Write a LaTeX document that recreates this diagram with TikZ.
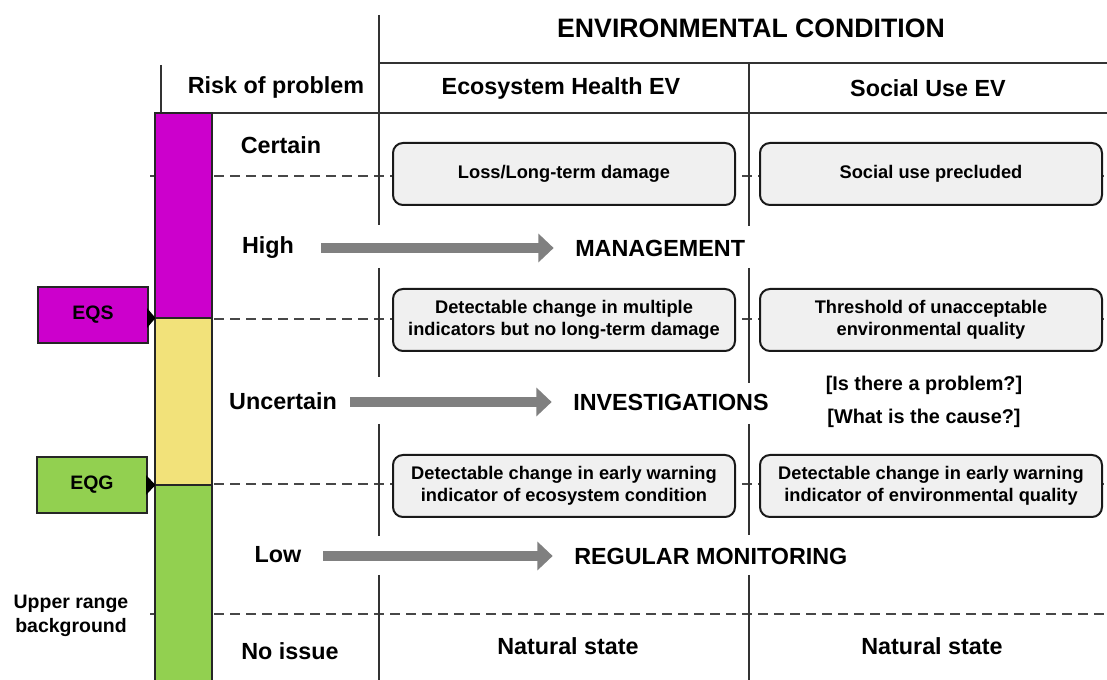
\documentclass[tikz,border=0pt]{standalone}
\usepackage{fontspec}
\setmainfont{Liberation Sans}
\usetikzlibrary{arrows.meta}
\definecolor{eqsmag}{RGB}{204,0,204}
\definecolor{eqsyel}{RGB}{242,226,122}
\definecolor{eqggreen}{RGB}{146,208,80}
\definecolor{boxgray}{RGB}{240,240,240}
\definecolor{arrgray}{RGB}{128,128,128}
\begin{document}
\begin{tikzpicture}[x=0.75pt,y=-0.75pt,
    every node/.style={font=\bfseries},
    hd/.style={font=\fontsize{17.5}{21}\selectfont\bfseries},
    sm/.style={font=\fontsize{14.6}{18}\selectfont\bfseries},
    rule/.style={draw=black!80,line width=1.6pt},
    dashline/.style={draw=black!72,line width=1.7pt,dash pattern=on 7.5pt off 4.5pt},
    evbox/.style={draw=black!90,line width=1.5pt,fill=boxgray,rounded corners=7.5pt,
      align=center,minimum width=256.5pt,minimum height=46.5pt,inner sep=2pt,
      font=\fontsize{13.7}{16.5}\selectfont\bfseries},
    eqbox/.style={draw=black!85,line width=0.9pt,minimum width=82.5pt,minimum height=42pt,sm},
    bigarrow/.style={draw=arrgray,line width=7.5pt,-{Triangle[width=21pt,length=11.5pt]},shorten >=16pt}]
  \useasboundingbox (0,0) rectangle (1107,680);
  % dashed thresholds
  \foreach \y in {176,319,484,614}
    \draw[dashline] (150,\y) -- (1107,\y);
  % table rules
  \draw[rule] (379,15) -- (379,225) (379,268) -- (379,377) (379,424) -- (379,536) (379,575) -- (379,680);
  \draw[rule] (749,63) -- (749,226) (749,268) -- (749,383) (749,424) -- (749,535) (749,575) -- (749,680);
  \draw[rule] (379,63) -- (1107,63);
  \draw[rule] (161,65) -- (161,113) -- (1107,113);
  % risk bar
  \filldraw[fill=eqsmag,draw=black!85,line width=0.9pt] (155,113) rectangle (212,318);
  \filldraw[fill=eqsyel,draw=black!85,line width=0.9pt] (155,318) rectangle (212,485);
  \filldraw[fill=eqggreen,draw=black!85,line width=0.9pt] (155,485) rectangle (212,681);
  % headings
  \node[font=\fontsize{20}{24}\selectfont\bfseries] (envcond) at (751,28) {ENVIRONMENTAL CONDITION};
  \node[hd] (riskhd) at (276,87) {Risk of problem};
  \node[hd] (ecohd) at (561,88) {Ecosystem Health EV};
  \node[hd] (sochd) at (928,88) {Social Use EV};
  % risk levels
  \node[hd] (certain) at (281,145) {Certain};
  \node[hd] (high) at (268,248) {High};
  \node[hd] (uncert) at (283,401) {Uncertain};
  \node[hd] (low) at (278,555) {Low};
  \node[hd] (noissue) at (290,651) {No issue};
  % actions
  \node[hd,anchor=west,inner sep=0pt] (mgmt) at (575,248) {MANAGEMENT};
  \node[hd,anchor=west,inner sep=0pt] (invest) at (573,402) {INVESTIGATIONS};
  \node[hd,anchor=west,inner sep=0pt] (regmon) at (574,556) {REGULAR MONITORING};
  \coordinate (a1) at (321,248);
  \coordinate (a2) at (350,402);
  \coordinate (a3) at (323,556);
  \draw[bigarrow] (a1) -- (mgmt.west);
  \draw[bigarrow] (a2) -- (invest.west);
  \draw[bigarrow] (a3) -- (regmon.west);
  \node[align=center,font=\fontsize{14.9}{24.75}\selectfont\bfseries] (quest) at (924,402)
    {[Is there a problem?]\\{}[What is the cause?]};
  % condition boxes
  \node[evbox] (eco1) at (564,174) {Loss/Long-term damage};
  \node[evbox] (soc1) at (931,174) {Social use precluded};
  \node[evbox] (eco2) at (564,320) {Detectable change in multiple\\indicators but no long-term damage};
  \node[evbox] (soc2) at (931,320) {Threshold of unacceptable\\environmental quality};
  \node[evbox] (eco3) at (564,486) {Detectable change in early warning\\indicator of ecosystem condition};
  \node[evbox] (soc3) at (931,486) {Detectable change in early warning\\indicator of environmental quality};
  \node[hd] (nat1) at (568,646) {Natural state};
  \node[hd] (nat2) at (932,646) {Natural state};
  % guideline markers
  \node[eqbox,fill=eqsmag] (eqs) at (93,315) {EQS};
  \node[eqbox,fill=eqggreen] (eqg) at (92,485) {EQG};
  \fill[black] (147,308) -- (155.5,318) -- (147,328) -- cycle;
  \fill[black] (146,475) -- (155.5,485) -- (146,495) -- cycle;
  \node[align=center,font=\fontsize{14.6}{18}\selectfont\bfseries] (upper) at (71,616) {Upper range\\background};
\end{tikzpicture}
\end{document}
